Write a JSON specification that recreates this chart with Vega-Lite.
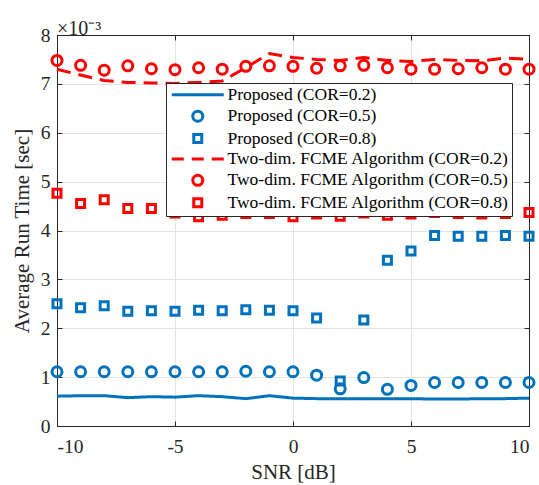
{
  "$schema": "https://vega.github.io/schema/vega-lite/v6.json",
  "width": 472,
  "height": 391,
  "autosize": {"type": "none"},
  "padding": {"left": 57, "top": 35, "right": 10, "bottom": 59},
  "title": {"text": "×10⁻³", "anchor": "start", "frame": "group", "baseline": "bottom", "font": "Liberation Serif", "fontSize": 20, "fontWeight": "normal", "color": "#262626", "offset": -34},
  "config": {
    "view": {"stroke": null},
    "axis": {"labelFont": "Liberation Serif", "titleFont": "Liberation Serif", "labelFontSize": 19.5, "titleFontSize": 21, "titleFontWeight": "normal", "labelColor": "#262626", "titleColor": "#262626", "domainColor": "#262626", "tickColor": "#262626", "tickSize": -5, "gridColor": "#e3e3e3", "gridOpacity": 1, "domainWidth": 1, "labelPadding": 12},
    "legend": {"orient": "none", "legendX": 109, "legendY": 48, "fillColor": "white", "strokeColor": "#262626", "padding": 3, "labelFont": "Liberation Serif", "labelFontSize": 17.5, "labelColor": "#000000", "symbolStrokeWidth": 3, "symbolSize": 100, "symbolOffset": 20, "labelOffset": 21, "rowPadding": 0.4, "labelLimit": 400}
  },
  "data": {"values": [
    {"x": -10, "y": 0.61, "s": "Proposed (COR=0.2)"},
    {"x": -9, "y": 0.62, "s": "Proposed (COR=0.2)"},
    {"x": -8, "y": 0.62, "s": "Proposed (COR=0.2)"},
    {"x": -7, "y": 0.58, "s": "Proposed (COR=0.2)"},
    {"x": -6, "y": 0.60, "s": "Proposed (COR=0.2)"},
    {"x": -5, "y": 0.59, "s": "Proposed (COR=0.2)"},
    {"x": -4, "y": 0.62, "s": "Proposed (COR=0.2)"},
    {"x": -3, "y": 0.60, "s": "Proposed (COR=0.2)"},
    {"x": -2, "y": 0.56, "s": "Proposed (COR=0.2)"},
    {"x": -1, "y": 0.62, "s": "Proposed (COR=0.2)"},
    {"x": 0, "y": 0.57, "s": "Proposed (COR=0.2)"},
    {"x": 1, "y": 0.56, "s": "Proposed (COR=0.2)"},
    {"x": 2, "y": 0.56, "s": "Proposed (COR=0.2)"},
    {"x": 3, "y": 0.56, "s": "Proposed (COR=0.2)"},
    {"x": 4, "y": 0.56, "s": "Proposed (COR=0.2)"},
    {"x": 5, "y": 0.56, "s": "Proposed (COR=0.2)"},
    {"x": 6, "y": 0.55, "s": "Proposed (COR=0.2)"},
    {"x": 7, "y": 0.55, "s": "Proposed (COR=0.2)"},
    {"x": 8, "y": 0.56, "s": "Proposed (COR=0.2)"},
    {"x": 9, "y": 0.56, "s": "Proposed (COR=0.2)"},
    {"x": 10, "y": 0.57, "s": "Proposed (COR=0.2)"},
    {"x": -10, "y": 1.11, "s": "Proposed (COR=0.5)"},
    {"x": -9, "y": 1.11, "s": "Proposed (COR=0.5)"},
    {"x": -8, "y": 1.11, "s": "Proposed (COR=0.5)"},
    {"x": -7, "y": 1.11, "s": "Proposed (COR=0.5)"},
    {"x": -6, "y": 1.11, "s": "Proposed (COR=0.5)"},
    {"x": -5, "y": 1.11, "s": "Proposed (COR=0.5)"},
    {"x": -4, "y": 1.11, "s": "Proposed (COR=0.5)"},
    {"x": -3, "y": 1.11, "s": "Proposed (COR=0.5)"},
    {"x": -2, "y": 1.12, "s": "Proposed (COR=0.5)"},
    {"x": -1, "y": 1.11, "s": "Proposed (COR=0.5)"},
    {"x": 0, "y": 1.11, "s": "Proposed (COR=0.5)"},
    {"x": 1, "y": 1.04, "s": "Proposed (COR=0.5)"},
    {"x": 2, "y": 0.76, "s": "Proposed (COR=0.5)"},
    {"x": 3, "y": 0.99, "s": "Proposed (COR=0.5)"},
    {"x": 4, "y": 0.75, "s": "Proposed (COR=0.5)"},
    {"x": 5, "y": 0.83, "s": "Proposed (COR=0.5)"},
    {"x": 6, "y": 0.89, "s": "Proposed (COR=0.5)"},
    {"x": 7, "y": 0.89, "s": "Proposed (COR=0.5)"},
    {"x": 8, "y": 0.89, "s": "Proposed (COR=0.5)"},
    {"x": 9, "y": 0.89, "s": "Proposed (COR=0.5)"},
    {"x": 10, "y": 0.89, "s": "Proposed (COR=0.5)"},
    {"x": -10, "y": 2.50, "s": "Proposed (COR=0.8)"},
    {"x": -9, "y": 2.42, "s": "Proposed (COR=0.8)"},
    {"x": -8, "y": 2.46, "s": "Proposed (COR=0.8)"},
    {"x": -7, "y": 2.35, "s": "Proposed (COR=0.8)"},
    {"x": -6, "y": 2.36, "s": "Proposed (COR=0.8)"},
    {"x": -5, "y": 2.35, "s": "Proposed (COR=0.8)"},
    {"x": -4, "y": 2.37, "s": "Proposed (COR=0.8)"},
    {"x": -3, "y": 2.36, "s": "Proposed (COR=0.8)"},
    {"x": -2, "y": 2.38, "s": "Proposed (COR=0.8)"},
    {"x": -1, "y": 2.37, "s": "Proposed (COR=0.8)"},
    {"x": 0, "y": 2.36, "s": "Proposed (COR=0.8)"},
    {"x": 1, "y": 2.21, "s": "Proposed (COR=0.8)"},
    {"x": 2, "y": 0.92, "s": "Proposed (COR=0.8)"},
    {"x": 3, "y": 2.17, "s": "Proposed (COR=0.8)"},
    {"x": 4, "y": 3.39, "s": "Proposed (COR=0.8)"},
    {"x": 5, "y": 3.58, "s": "Proposed (COR=0.8)"},
    {"x": 6, "y": 3.90, "s": "Proposed (COR=0.8)"},
    {"x": 7, "y": 3.88, "s": "Proposed (COR=0.8)"},
    {"x": 8, "y": 3.88, "s": "Proposed (COR=0.8)"},
    {"x": 9, "y": 3.90, "s": "Proposed (COR=0.8)"},
    {"x": 10, "y": 3.88, "s": "Proposed (COR=0.8)"},
    {"x": -10, "y": 7.30, "s": "Two-dim. FCME Algorithm (COR=0.2)"},
    {"x": -9, "y": 7.18, "s": "Two-dim. FCME Algorithm (COR=0.2)"},
    {"x": -8, "y": 7.07, "s": "Two-dim. FCME Algorithm (COR=0.2)"},
    {"x": -7, "y": 7.03, "s": "Two-dim. FCME Algorithm (COR=0.2)"},
    {"x": -6, "y": 7.02, "s": "Two-dim. FCME Algorithm (COR=0.2)"},
    {"x": -5, "y": 7.01, "s": "Two-dim. FCME Algorithm (COR=0.2)"},
    {"x": -4, "y": 7.03, "s": "Two-dim. FCME Algorithm (COR=0.2)"},
    {"x": -3, "y": 7.06, "s": "Two-dim. FCME Algorithm (COR=0.2)"},
    {"x": -2, "y": 7.33, "s": "Two-dim. FCME Algorithm (COR=0.2)"},
    {"x": -1, "y": 7.62, "s": "Two-dim. FCME Algorithm (COR=0.2)"},
    {"x": 0, "y": 7.54, "s": "Two-dim. FCME Algorithm (COR=0.2)"},
    {"x": 1, "y": 7.50, "s": "Two-dim. FCME Algorithm (COR=0.2)"},
    {"x": 2, "y": 7.48, "s": "Two-dim. FCME Algorithm (COR=0.2)"},
    {"x": 3, "y": 7.54, "s": "Two-dim. FCME Algorithm (COR=0.2)"},
    {"x": 4, "y": 7.48, "s": "Two-dim. FCME Algorithm (COR=0.2)"},
    {"x": 5, "y": 7.46, "s": "Two-dim. FCME Algorithm (COR=0.2)"},
    {"x": 6, "y": 7.50, "s": "Two-dim. FCME Algorithm (COR=0.2)"},
    {"x": 7, "y": 7.48, "s": "Two-dim. FCME Algorithm (COR=0.2)"},
    {"x": 8, "y": 7.47, "s": "Two-dim. FCME Algorithm (COR=0.2)"},
    {"x": 9, "y": 7.53, "s": "Two-dim. FCME Algorithm (COR=0.2)"},
    {"x": 10, "y": 7.50, "s": "Two-dim. FCME Algorithm (COR=0.2)"},
    {"x": -10, "y": 7.48, "s": "Two-dim. FCME Algorithm (COR=0.5)"},
    {"x": -9, "y": 7.38, "s": "Two-dim. FCME Algorithm (COR=0.5)"},
    {"x": -8, "y": 7.28, "s": "Two-dim. FCME Algorithm (COR=0.5)"},
    {"x": -7, "y": 7.37, "s": "Two-dim. FCME Algorithm (COR=0.5)"},
    {"x": -6, "y": 7.31, "s": "Two-dim. FCME Algorithm (COR=0.5)"},
    {"x": -5, "y": 7.29, "s": "Two-dim. FCME Algorithm (COR=0.5)"},
    {"x": -4, "y": 7.33, "s": "Two-dim. FCME Algorithm (COR=0.5)"},
    {"x": -3, "y": 7.30, "s": "Two-dim. FCME Algorithm (COR=0.5)"},
    {"x": -2, "y": 7.36, "s": "Two-dim. FCME Algorithm (COR=0.5)"},
    {"x": -1, "y": 7.37, "s": "Two-dim. FCME Algorithm (COR=0.5)"},
    {"x": 0, "y": 7.36, "s": "Two-dim. FCME Algorithm (COR=0.5)"},
    {"x": 1, "y": 7.32, "s": "Two-dim. FCME Algorithm (COR=0.5)"},
    {"x": 2, "y": 7.37, "s": "Two-dim. FCME Algorithm (COR=0.5)"},
    {"x": 3, "y": 7.38, "s": "Two-dim. FCME Algorithm (COR=0.5)"},
    {"x": 4, "y": 7.33, "s": "Two-dim. FCME Algorithm (COR=0.5)"},
    {"x": 5, "y": 7.30, "s": "Two-dim. FCME Algorithm (COR=0.5)"},
    {"x": 6, "y": 7.30, "s": "Two-dim. FCME Algorithm (COR=0.5)"},
    {"x": 7, "y": 7.31, "s": "Two-dim. FCME Algorithm (COR=0.5)"},
    {"x": 8, "y": 7.33, "s": "Two-dim. FCME Algorithm (COR=0.5)"},
    {"x": 9, "y": 7.30, "s": "Two-dim. FCME Algorithm (COR=0.5)"},
    {"x": 10, "y": 7.30, "s": "Two-dim. FCME Algorithm (COR=0.5)"},
    {"x": -10, "y": 4.76, "s": "Two-dim. FCME Algorithm (COR=0.8)"},
    {"x": -9, "y": 4.55, "s": "Two-dim. FCME Algorithm (COR=0.8)"},
    {"x": -8, "y": 4.63, "s": "Two-dim. FCME Algorithm (COR=0.8)"},
    {"x": -7, "y": 4.45, "s": "Two-dim. FCME Algorithm (COR=0.8)"},
    {"x": -6, "y": 4.45, "s": "Two-dim. FCME Algorithm (COR=0.8)"},
    {"x": -5, "y": 4.36, "s": "Two-dim. FCME Algorithm (COR=0.8)"},
    {"x": -4, "y": 4.28, "s": "Two-dim. FCME Algorithm (COR=0.8)"},
    {"x": -3, "y": 4.31, "s": "Two-dim. FCME Algorithm (COR=0.8)"},
    {"x": -2, "y": 4.35, "s": "Two-dim. FCME Algorithm (COR=0.8)"},
    {"x": -1, "y": 4.35, "s": "Two-dim. FCME Algorithm (COR=0.8)"},
    {"x": 0, "y": 4.28, "s": "Two-dim. FCME Algorithm (COR=0.8)"},
    {"x": 1, "y": 4.34, "s": "Two-dim. FCME Algorithm (COR=0.8)"},
    {"x": 2, "y": 4.29, "s": "Two-dim. FCME Algorithm (COR=0.8)"},
    {"x": 3, "y": 4.36, "s": "Two-dim. FCME Algorithm (COR=0.8)"},
    {"x": 4, "y": 4.31, "s": "Two-dim. FCME Algorithm (COR=0.8)"},
    {"x": 5, "y": 4.34, "s": "Two-dim. FCME Algorithm (COR=0.8)"},
    {"x": 6, "y": 4.37, "s": "Two-dim. FCME Algorithm (COR=0.8)"},
    {"x": 7, "y": 4.35, "s": "Two-dim. FCME Algorithm (COR=0.8)"},
    {"x": 8, "y": 4.34, "s": "Two-dim. FCME Algorithm (COR=0.8)"},
    {"x": 9, "y": 4.35, "s": "Two-dim. FCME Algorithm (COR=0.8)"},
    {"x": 10, "y": 4.37, "s": "Two-dim. FCME Algorithm (COR=0.8)"}
  ]},
  "layer": [
    {
      "transform": [{"filter": "indexof(datum.s, 'COR=0.2') >= 0"}],
      "mark": {"type": "line", "strokeWidth": 3},
      "encoding": {
        "x": {"field": "x", "type": "quantitative", "scale": {"domain": [-10, 10], "nice": false}, "title": "SNR [dB]",
              "axis": {"orient": "bottom", "values": [-10, -5, 0, 5, 10], "labelExpr": "datum.value + ''", "grid": true, "labelPadding": 16, "titlePadding": 6}},
        "y": {"field": "y", "type": "quantitative", "scale": {"domain": [0, 8], "nice": false}, "title": "Average Run Time [sec]",
              "axis": {"orient": "left", "values": [0, 1, 2, 3, 4, 5, 6, 7, 8], "grid": true, "titlePadding": 8}},
        "color": {"field": "s", "type": "nominal",
                  "scale": {"domain": ["Proposed (COR=0.2)", "Proposed (COR=0.5)", "Proposed (COR=0.8)", "Two-dim. FCME Algorithm (COR=0.2)", "Two-dim. FCME Algorithm (COR=0.5)", "Two-dim. FCME Algorithm (COR=0.8)"],
                            "range": ["#0072BD", "#0072BD", "#0072BD", "#FF0000", "#FF0000", "#FF0000"]},
                  "legend": {"title": null}},
        "strokeDash": {"field": "s", "type": "nominal",
                       "scale": {"domain": ["Proposed (COR=0.2)", "Two-dim. FCME Algorithm (COR=0.2)"], "range": [[1, 0], [14, 8]]},
                       "legend": null}
      }
    },
    {
      "transform": [{"filter": "indexof(datum.s, 'COR=0.2') < 0"}],
      "mark": {"type": "point", "filled": false, "strokeWidth": 3, "opacity": 1, "size": 100},
      "encoding": {
        "x": {"field": "x", "type": "quantitative", "scale": {"domain": [-10, 10], "nice": false}, "title": null,
              "axis": {"orient": "top", "values": [-10, -5, 0, 5, 10], "labels": false, "grid": false}},
        "y": {"field": "y", "type": "quantitative", "scale": {"domain": [0, 8], "nice": false}, "title": null,
              "axis": {"orient": "right", "values": [0, 1, 2, 3, 4, 5, 6, 7, 8], "labels": false, "grid": false}},
        "color": {"field": "s", "type": "nominal",
                  "scale": {"domain": ["Proposed (COR=0.2)", "Proposed (COR=0.5)", "Proposed (COR=0.8)", "Two-dim. FCME Algorithm (COR=0.2)", "Two-dim. FCME Algorithm (COR=0.5)", "Two-dim. FCME Algorithm (COR=0.8)"],
                            "range": ["#0072BD", "#0072BD", "#0072BD", "#FF0000", "#FF0000", "#FF0000"]},
                  "legend": {"title": null}},
        "shape": {"field": "s", "type": "nominal",
                  "scale": {"domain": ["Proposed (COR=0.2)", "Proposed (COR=0.5)", "Proposed (COR=0.8)", "Two-dim. FCME Algorithm (COR=0.2)", "Two-dim. FCME Algorithm (COR=0.5)", "Two-dim. FCME Algorithm (COR=0.8)"],
                            "range": ["M-5.2,0L5.2,0", "circle", "M-0.8,-0.8L0.8,-0.8L0.8,0.8L-0.8,0.8Z", "M-5.2,0L-2.8,0M-1.2,0L1.2,0M2.8,0L5.2,0", "circle", "M-0.8,-0.8L0.8,-0.8L0.8,0.8L-0.8,0.8Z"]},
                  "legend": {"title": null}}
      }
    }
  ],
  "resolve": {"axis": {"x": "independent", "y": "independent"}}
}
